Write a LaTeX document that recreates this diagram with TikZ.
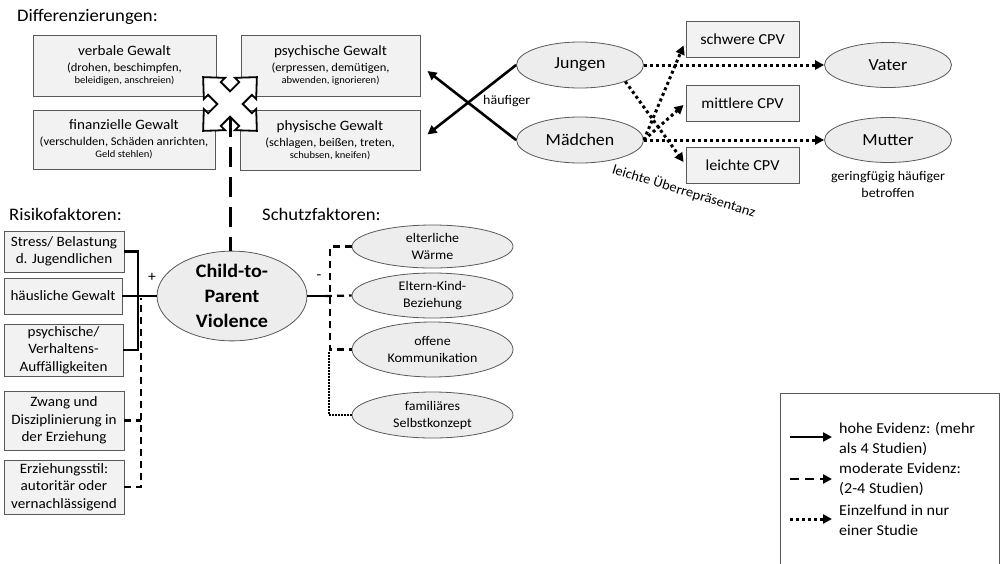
\documentclass[tikz,border=0pt]{standalone}
\usepackage{fontspec}
\setmainfont{Carlito}[FakeStretch=1.06]
\usetikzlibrary{arrows.meta,shapes.geometric,calc}
\definecolor{boxfill}{HTML}{F2F2F2}
\definecolor{ellfill}{HTML}{EDEDED}
\definecolor{edgecol}{HTML}{595959}
\newcommand{\fsz}[2]{\fontsize{#1pt}{#2pt}\selectfont}
\begin{document}
\begin{tikzpicture}[x=1pt,y=-1pt,
  gbox/.style={draw=edgecol,line width=0.8pt,fill=boxfill,inner sep=1pt,align=center},
  gell/.style={ellipse,draw=edgecol,line width=0.8pt,fill=ellfill,inner sep=0pt,align=center},
  lbl/.style={inner sep=0pt},
  tip/.style={-{Triangle[length=9pt,width=9pt]}},
  hiarrow/.style={line width=2.6pt,tip},
  solidln/.style={line width=2.2pt},
  modln/.style={line width=2.2pt,dash pattern=on 7pt off 5pt},
  modarrow/.style={line width=2.6pt,dash pattern=on 9pt off 6pt,tip},
  dotarrow/.style={line width=3pt,dash pattern=on 3pt off 3pt,tip},
  dotln/.style={line width=1.5pt,dash pattern=on 1.5pt off 1.5pt},
  ttl/.style={lbl,anchor=west,font=\fsz{17.6}{20}}]
\useasboundingbox (0,0) rectangle (1000,563);
\fill[white] (0,0) rectangle (1000,563);

% titles
\node[ttl] (tdiff) at (17,17) {Differenzierungen:};
\node[ttl] (trisk) at (9,214) {Risikofaktoren:};
\node[ttl] (tschutz) at (262,214) {Schutzfaktoren:};

% violence types
\node[gbox,minimum width=183pt,minimum height=61pt] (verbal) at (124.5,65.5)
  {\fsz{14.3}{15}verbale Gewalt\\[4pt]\fsz{11.8}{15}(drohen, beschimpfen,\\beleidigen, anschreien)};
\node[gbox,minimum width=182pt,minimum height=59pt] (finanz) at (124,139.5)
  {\fsz{14.3}{15}finanzielle Gewalt\\[4pt]\fsz{11.8}{15}(verschulden, Schäden anrichten,\\Geld stehlen)};
\node[gbox,minimum width=179pt,minimum height=61pt] (psych) at (330.5,65.5)
  {\fsz{14.3}{15}psychische Gewalt\\[4pt]\fsz{11.8}{15}(erpressen, demütigen,\\abwenden, ignorieren)};
\node[gbox,minimum width=180pt,minimum height=60pt] (phys) at (330,140)
  {\fsz{14.3}{15}physische Gewalt\\[4pt]\fsz{11.8}{15}(schlagen, beißen, treten,\\schubsen, kneifen)};

% quad arrow symbol
\draw[line width=1.8pt,fill=white,line join=miter,shift={(230,104)},rotate=45]
 (9,9) -- (22,9) -- (22,15) -- (38,0) -- (22,-15) -- (22,-9) -- (9,-9) -- (9,-22) -- (15,-22) -- (0,-38)
 -- (-15,-22) -- (-9,-22) -- (-9,-9) -- (-22,-9) -- (-22,-15) -- (-38,0) -- (-22,15) -- (-22,9)
 -- (-9,9) -- (-9,22) -- (-15,22) -- (0,38) -- (15,22) -- (9,22) -- cycle;
\coordinate (crossb) at (230,117);

% central node
\node[gell,minimum width=150pt,minimum height=87pt,font=\bfseries\fsz{19}{25}] (cpv) at (232,296)
  {Child-to-\\Parent\\Violence};
\draw[line width=3pt,dash pattern=on 20pt off 10pt] (crossb) -- (crossb |- cpv.north);

% risk factors
\node[gbox,minimum width=120pt,minimum height=41pt,font=\fsz{14.3}{17.5}] (stress) at (64,251.5) {Stress/ Belastung\\d. Jugendlichen};
\node[gbox,minimum width=118pt,minimum height=36pt,font=\fsz{14.3}{17.5}] (haus) at (63,296) {häusliche Gewalt};
\node[gbox,minimum width=119pt,minimum height=52pt,font=\fsz{14.3}{17.5}] (psyr) at (63.5,350) {psychische/\\Verhaltens-\\Auffälligkeiten};
\node[gbox,minimum width=120pt,minimum height=59pt,font=\fsz{14.3}{17.5}] (zwang) at (64,420.5) {Zwang und\\Disziplinierung in\\der Erziehung};
\node[gbox,minimum width=120pt,minimum height=54pt,font=\fsz{14.3}{17.5}] (erz) at (64,487) {Erziehungsstil:\\autoritär oder\\vernachlässigend};
\coordinate (rjoin) at (138,296);
\coordinate (rdash) at (141,298);
\draw[solidln] (stress.east) -| (rjoin);
\draw[solidln] (psyr.east) -| (rjoin);
\draw[solidln] (haus.east) -- (cpv.west);
\draw[modln] (erz.east) -| (rdash);
\draw[modln] (zwang.east) -- (zwang.east -| rdash);
\node[lbl,font=\fsz{14.8}{16}] (plus) at (152,277) {+};

% protective factors
\node[gell,minimum width=161pt,minimum height=43pt,font=\fsz{13.2}{17}] (warm) at (432.5,246.5) {elterliche\\Wärme};
\node[gell,minimum width=161pt,minimum height=45pt,font=\fsz{13.2}{17}] (eltern) at (432.5,295.5) {Eltern-Kind-\\Beziehung};
\node[gell,minimum width=161pt,minimum height=55pt,font=\fsz{13.2}{17}] (offen) at (432.5,349.5) {offene\\Kommunikation};
\node[gell,minimum width=161pt,minimum height=46pt,font=\fsz{13.2}{17}] (famil) at (432.5,415) {familiäres\\Selbstkonzept};
\coordinate (pj) at (325,296);
\coordinate (pjoin) at (330,296);
\coordinate (poff) at (329,352);
\draw[solidln] (cpv.east) -- (pj);
\draw[modln] (pj) -- (eltern.west);
\draw[modln] (warm.west) -| (pjoin) |- (offen.west);
\draw[dotln] (famil.west) -| (poff);
\node[lbl,font=\fsz{14.8}{16}] (minus) at (319,277) {-};

% gender
\node[gell,minimum width=127pt,minimum height=46pt,font=\fsz{16.9}{19}] (jungen) at (580,65) {Jungen};
\node[gell,minimum width=127pt,minimum height=46pt,font=\fsz{16.9}{19}] (maedchen) at (580,140) {Mädchen};
\draw[hiarrow,shorten >=9pt] (jungen.west) -- (phys.east);
\draw[hiarrow,shorten >=9pt] (maedchen.west) -- (psych.east);
\node[lbl,anchor=west,font=\fsz{13.2}{15}] (haeuf) at (483,101) {häufiger};
\node[lbl,rotate=-17,font=\fsz{13.7}{15}] (ueber) at (684,191) {leichte Überrepräsentanz};

% severity boxes
\node[gbox,minimum width=113pt,minimum height=36pt,font=\fsz{15.3}{17}] (schwer) at (742.5,39) {schwere CPV};
\node[gbox,minimum width=113pt,minimum height=36pt,font=\fsz{15.3}{17}] (mittel) at (742.5,103) {mittlere CPV};
\node[gbox,minimum width=113pt,minimum height=36pt,font=\fsz{15.3}{17}] (leicht) at (742.5,165) {leichte CPV};

% parents
\node[gell,minimum width=127pt,minimum height=45pt,font=\fsz{16.9}{19}] (vater) at (888,65) {Vater};
\node[gell,minimum width=127pt,minimum height=45pt,font=\fsz{16.9}{19}] (mutter) at (888,140) {Mutter};
\node[align=center,lbl,font=\fsz{13.2}{17}] (gering) at (888,184.5) {geringfügig häufiger\\betroffen};

% dotted arrows
\draw[dotarrow] (jungen.east) -- (vater.west);
\draw[dotarrow] (maedchen.east) -- (mutter.west);
\draw[dotarrow] (maedchen.east) -- ($(schwer.south west)+(-2,-12)$);
\draw[dotarrow] (maedchen.east) -- ($(mittel.west)+(-2,2)$);
\draw[dotarrow] (jungen.-20) -- ($(leicht.west)+(-2,-3)$);

% legend
\node[draw=edgecol,line width=0.8pt,anchor=north west,inner sep=0pt,minimum width=219pt,minimum height=180pt] (legend) at (780,393) {};
\coordinate (la1) at (790,437); \coordinate (lb1) at (832,437);
\coordinate (la2) at (790,479); \coordinate (lb2) at (832,479);
\coordinate (la3) at (790,519); \coordinate (lb3) at (832,519);
\draw[hiarrow] (la1) -- (lb1);
\draw[modarrow] (la2) -- (lb2);
\draw[dotarrow] (la3) -- (lb3);
\node[lbl,anchor=west,align=left,font=\fsz{15.2}{20}] (lt1) at (839,438.5) {hohe Evidenz: (mehr\\als 4 Studien)};
\node[lbl,anchor=west,align=left,font=\fsz{15.2}{20}] (lt2) at (839,479) {moderate Evidenz:\\(2-4 Studien)};
\node[lbl,anchor=west,align=left,font=\fsz{15.2}{20}] (lt3) at (839,520) {Einzelfund in nur\\einer Studie};
\end{tikzpicture}
\end{document}
